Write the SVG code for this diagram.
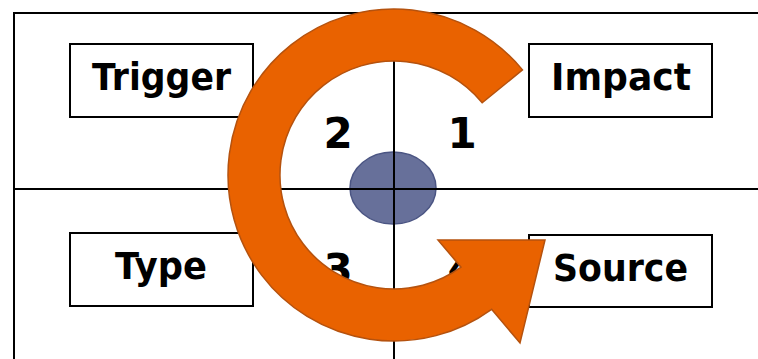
<svg xmlns="http://www.w3.org/2000/svg" width="758" height="359" viewBox="0 0 758 359">
<style>
.line{stroke:#000;stroke-width:2;fill:none}
.box{fill:#fff;stroke:#000;stroke-width:2}
.lbl{font-family:"DejaVu Sans",Verdana,sans-serif;font-weight:bold;font-size:37px;fill:#000;text-anchor:middle}
.num{font-family:"DejaVu Sans",Verdana,sans-serif;font-weight:bold;font-size:42px;fill:#000;text-anchor:middle}
</style>
<rect width="758" height="359" fill="#fff"/>
<g id="hub">
<ellipse cx="393" cy="188" rx="43" ry="36" fill="#67709a" stroke="#4b5583" stroke-width="1.5"/>
</g>
<g id="frame">
<path class="line" d="M14,359 V13 H758"/>
<path class="line" d="M14,189 H758"/>
<path class="line" d="M394,13 V359"/>
</g>
<g id="trigger"><rect class="box" x="70" y="44" width="183" height="73"/><text class="lbl" x="161.5" y="90" textLength="139" lengthAdjust="spacingAndGlyphs">Trigger</text></g>
<g id="impact"><rect class="box" x="529" y="44" width="183" height="73"/><text class="lbl" x="621" y="90" textLength="140" lengthAdjust="spacingAndGlyphs">Impact</text></g>
<g id="type"><rect class="box" x="70" y="233" width="183" height="73"/><text class="lbl" x="161" y="279" textLength="92" lengthAdjust="spacingAndGlyphs">Type</text></g>
<g id="source"><rect class="box" x="529" y="235" width="183" height="72"/><text class="lbl" x="620.5" y="281" textLength="135" lengthAdjust="spacingAndGlyphs">Source</text></g>
<g id="numbers">
<text class="num" x="338" y="148">2</text>
<text class="num" x="462" y="148">1</text>
<text class="num" x="338" y="284">3</text>
<text class="num" x="462" y="284">4</text>
</g>
<g id="connectors">
<path d="M522.5,69.9 A166,166 0 1 0 491.6,309.3 L520,343 L545,240 L438,240 L461,267.2 A114,114 0 1 1 482.2,102.8 Z" fill="#e96200" stroke="#b5520e" stroke-width="1.5" stroke-linejoin="miter"/>
</g>
</svg>
